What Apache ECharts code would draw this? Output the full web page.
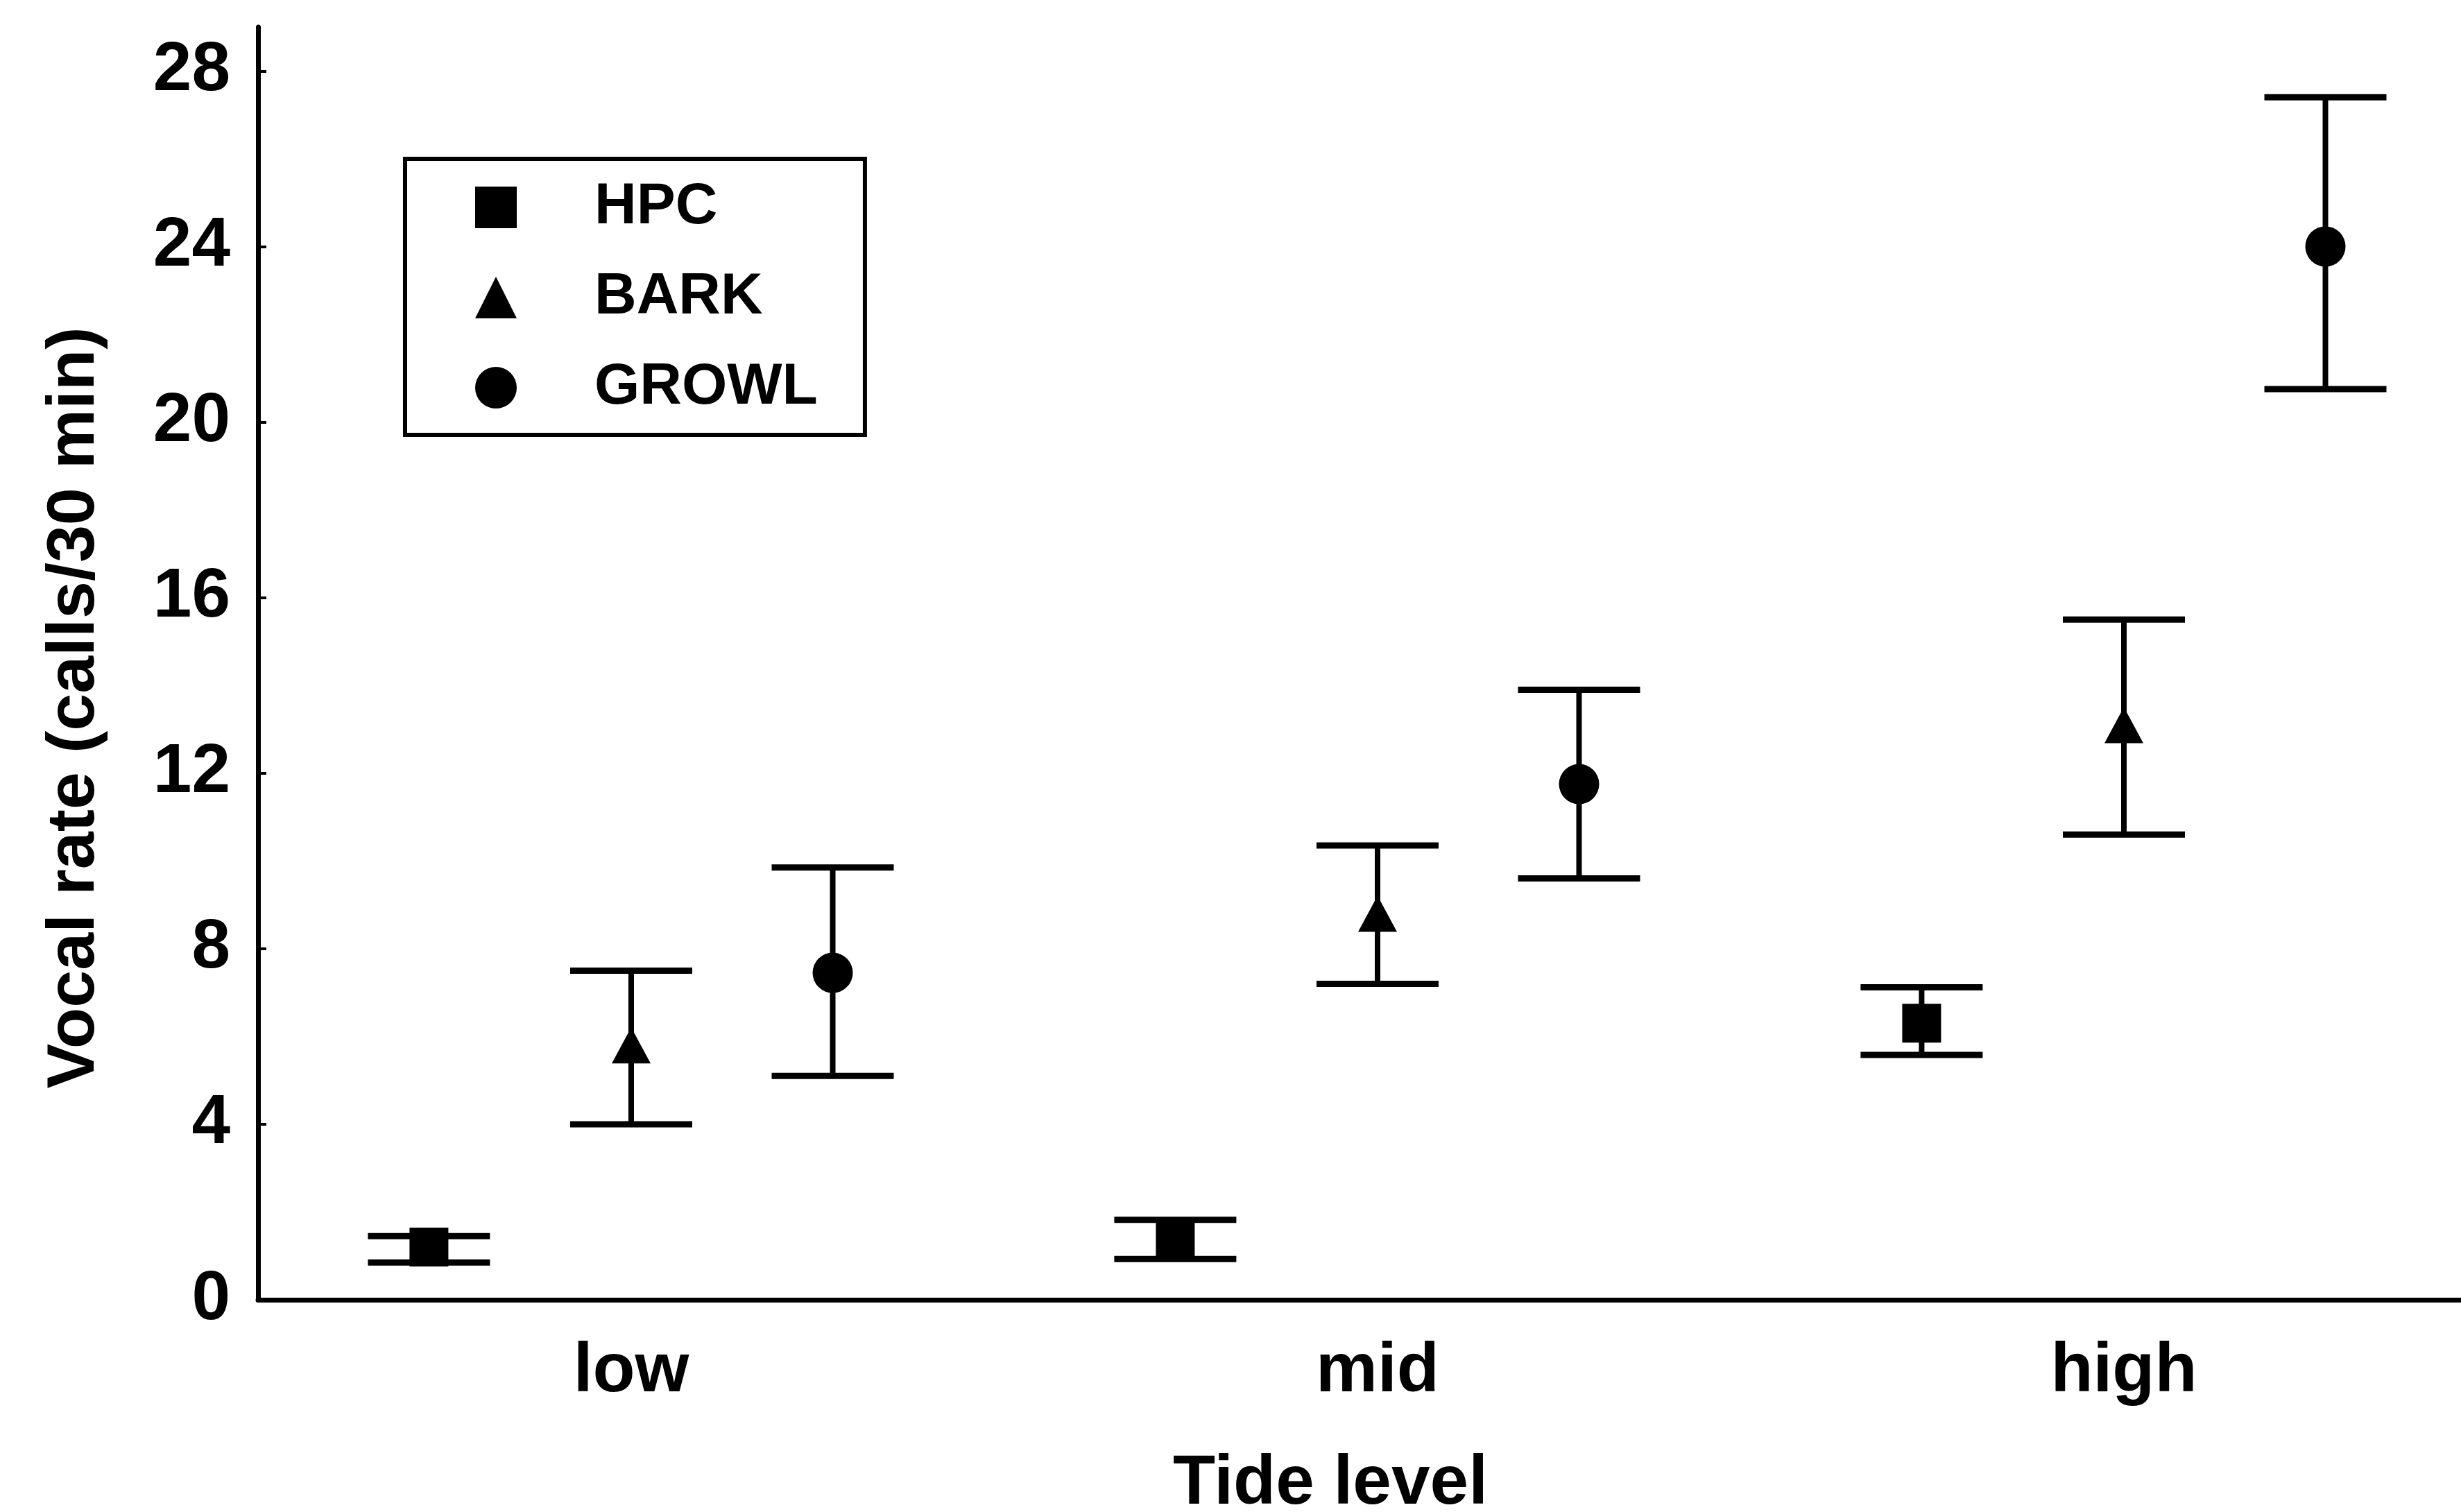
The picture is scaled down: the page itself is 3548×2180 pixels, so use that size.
<!DOCTYPE html>
<html>
<head>
<meta charset="utf-8">
<title>Vocal rate by tide level</title>
<script src="https://cdn.jsdelivr.net/npm/echarts@6/dist/echarts.min.js"></script>
<style>
  html, body { margin: 0; padding: 0; background: #fff; }
  #chart { width: 3548px; height: 2180px; }
</style>
</head>
<body>
<div id="chart"></div>
<script>
const tideLevels = ['low', 'mid', 'high'];
const yTicks = [0, 4, 8, 12, 16, 20, 24, 28];

// mean and the two ends of the error bar, one value per tide level
const hpcMean = [1.2, 1.35, 6.3];
const hpcLow = [0.85, 0.93, 5.58];
const hpcHigh = [1.45, 1.82, 7.12];

const barkMean = [5.7, 8.7, 13.0];
const barkLow = [4.0, 7.2, 10.6];
const barkHigh = [7.5, 10.35, 15.5];

const growlMean = [7.45, 11.75, 24.0];
const growlLow = [5.1, 9.6, 20.75];
const growlHigh = [9.85, 13.9, 27.4];

const FONT = '"Liberation Sans", Arial, sans-serif';

function toRows(mean, low, high) {
    return mean.map((m, i) => [i, m, low[i], high[i]]);
}

/**
 * error bar + marker, shifted sideways inside the category band
 */
function makeRender(shape, shift) {
    return function (params, api) {
        const band = api.size([1, 0])[0];
        const mid = api.coord([api.value(0), api.value(1)]);
        const x = mid[0] + shift * band;
        const y = mid[1];
        const yLow = api.coord([api.value(0), api.value(2)])[1];
        const yHigh = api.coord([api.value(0), api.value(3)])[1];
        const cap = 88;
        const stroke = { stroke: '#000', lineWidth: 8 };
        const capStroke = { stroke: '#000', lineWidth: 9 };

        let marker;
        if (shape === 'square') {
            marker = { type: 'rect', shape: { x: x - 28, y: y - 28, width: 56, height: 56 }, style: { fill: '#000' } };
        } else if (shape === 'triangle') {
            marker = { type: 'polygon', shape: { points: [[x, y - 32], [x - 28, y + 20], [x + 28, y + 20]] }, style: { fill: '#000' } };
        } else {
            marker = { type: 'circle', shape: { cx: x, cy: y, r: 29 }, style: { fill: '#000' } };
        }

        return {
            type: 'group',
            children: [
                { type: 'line', shape: { x1: x, y1: yLow, x2: x, y2: yHigh }, style: stroke },
                { type: 'line', shape: { x1: x - cap, y1: yLow, x2: x + cap, y2: yLow }, style: capStroke },
                { type: 'line', shape: { x1: x - cap, y1: yHigh, x2: x + cap, y2: yHigh }, style: capStroke },
                marker
            ]
        };
    };
}

function initChart() {
    const chart = echarts.init(document.getElementById('chart'));
    const option = {
        animation: false,
        color: ['#000'],
        legend: {
            orient: 'vertical',
            left: 584,
            top: 229,
            padding: [28, 68, 26, 101],
            borderColor: '#000',
            borderWidth: 6,
            itemGap: 46,
            itemWidth: 60,
            itemHeight: 60,
            textStyle: {
                fontFamily: FONT,
                fontSize: 84,
                fontWeight: 'bold',
                color: '#000',
                padding: [0, 0, 0, 107]
            },
            data: [
                { name: 'HPC', icon: 'rect' },
                { name: 'BARK', icon: 'triangle' },
                { name: 'GROWL', icon: 'circle' }
            ]
        },
        grid: {
            left: 372,
            right: -52,
            top: 39,
            bottom: 306,
            outerBoundsMode: 'none'
        },
        xAxis: {
            type: 'category',
            data: tideLevels,
            name: 'Tide level',
            nameLocation: 'middle',
            nameGap: 216,
            nameTextStyle: { fontFamily: FONT, fontSize: 100, fontWeight: 'bold', color: '#000', padding: [0, 136, 0, 0] },
            axisLine: { show: true, lineStyle: { color: '#000', width: 7 } },
            axisTick: { show: false },
            axisLabel: { fontFamily: FONT, fontSize: 100, fontWeight: 'bold', color: '#000', margin: 54 },
            splitLine: { show: false }
        },
        yAxis: {
            type: 'value',
            min: 0,
            max: 29,
            interval: 4,
            name: 'Vocal rate (calls/30 min)',
            nameLocation: 'middle',
            nameRotate: 90,
            nameGap: 215,
            nameTextStyle: { fontFamily: FONT, fontSize: 97, fontWeight: 'bold', color: '#000', padding: [0, 128, 0, 0] },
            axisLine: { show: true, lineStyle: { color: '#000', width: 7 } },
            axisTick: { show: true, inside: true, length: 12, lineStyle: { color: '#000', width: 4 }, customValues: yTicks },
            axisLabel: { fontFamily: FONT, fontSize: 100, fontWeight: 'bold', color: '#000', margin: 40, customValues: yTicks },
            splitLine: { show: false }
        },
        series: [
            {
                name: 'HPC', type: 'custom', itemStyle: { color: '#000' },
                encode: { x: 0, y: [1, 2, 3] },
                renderItem: makeRender('square', -0.271),
                data: toRows(hpcMean, hpcLow, hpcHigh)
            },
            {
                name: 'BARK', type: 'custom', itemStyle: { color: '#000' },
                encode: { x: 0, y: [1, 2, 3] },
                renderItem: makeRender('triangle', 0),
                data: toRows(barkMean, barkLow, barkHigh)
            },
            {
                name: 'GROWL', type: 'custom', itemStyle: { color: '#000' },
                encode: { x: 0, y: [1, 2, 3] },
                renderItem: makeRender('circle', 0.27),
                data: toRows(growlMean, growlLow, growlHigh)
            }
        ]
    };
    chart.setOption(option);
}

document.addEventListener('DOMContentLoaded', initChart);
</script>
</body>
</html>
